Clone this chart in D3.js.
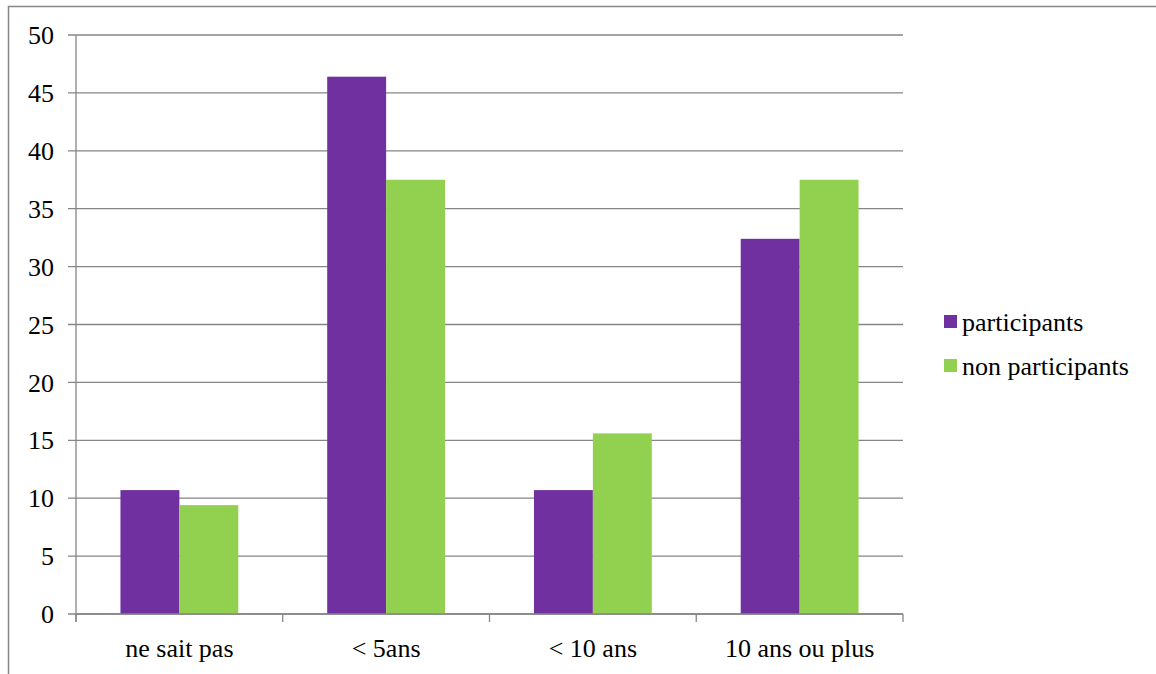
<!DOCTYPE html>
<html>
<head>
<meta charset="utf-8">
<script src="https://cdn.jsdelivr.net/npm/d3@7"></script>
<style>
  body { margin: 0; background: #fff; }
</style>
</head>
<body>
<svg id="chart" width="1156" height="674"></svg>
<script>
const categories = ["ne sait pas", "< 5ans", "< 10 ans", "10 ans ou plus"];
const seriesNames = ["participants", "non participants"];
const participants = [10.7, 46.4, 10.7, 32.4];
const nonParticipants = [9.4, 37.5, 15.6, 37.5];
const yTicks = [0, 5, 10, 15, 20, 25, 30, 35, 40, 45, 50];
const colors = ["#7030A0", "#92D050"];

// pick an installed serif face (Times-like), else fall back
function pickFont() {
  const ctx = document.createElement("canvas").getContext("2d");
  const sample = "non participants 10 ans ou plus";
  const w = f => { ctx.font = `40px ${f}`; return ctx.measureText(sample).width; };
  const base = [w("monospace"), w("sans-serif")];
  const cands = ["Liberation Serif", "Times New Roman", "Tinos", "Noto Serif", "DejaVu Serif", "FreeSerif"];
  for (const c of cands) {
    const a = w(`'${c}', monospace`), b = w(`'${c}', sans-serif`);
    if (a === b && a !== base[0]) return { font: `'${c}', serif`, size: c === "DejaVu Serif" ? 21 : 26 };
  }
  return { font: "serif", size: 26 };
}
const F = pickFont();

const svg = d3.select("#chart");
const margin = { top: 35, left: 76, right: 253, bottom: 60 };
const width = 1156;
const innerW = width - margin.left - margin.right;
const innerH = 614 - margin.top;

// outer frame
svg.append("rect")
  .attr("x", 8.5).attr("y", 6.5)
  .attr("width", 1160).attr("height", 680)
  .attr("fill", "none").attr("stroke", "#868686").attr("stroke-width", 1.5);

const g = svg.append("g").attr("transform", `translate(${margin.left},${margin.top})`);

const x = d3.scaleBand().domain(categories).range([0, innerW]).paddingInner(0.43).paddingOuter(0.215);
const x1 = d3.scaleBand().domain(seriesNames).range([0, x.bandwidth()]);
const y = d3.scaleLinear().domain([0, 50]).range([innerH, 0]);

// gridlines
g.append("g").selectAll("line").data(yTicks).join("line")
  .attr("x1", -8).attr("x2", innerW)
  .attr("y1", d => y(d)).attr("y2", d => y(d))
  .attr("stroke", "#868686").attr("stroke-width", 1.3);

// y axis labels
g.append("g").selectAll("text").data(yTicks).join("text")
  .attr("x", -22).attr("y", d => y(d)).attr("dy", "0.35em")
  .attr("text-anchor", "end").attr("font-size", F.size).attr("font-family", F.font).attr("fill", "#000")
  .text(d => d);

// bars
const rows = categories.map((c, i) => ({ cat: c, vals: [participants[i], nonParticipants[i]] }));
const grp = g.append("g").selectAll("g").data(rows).join("g")
  .attr("transform", d => `translate(${x(d.cat)},0)`);
grp.selectAll("rect").data(d => d.vals.map((v, i) => ({ s: seriesNames[i], v, i }))).join("rect")
  .attr("x", d => x1(d.s)).attr("width", x1.bandwidth())
  .attr("y", d => y(d.v)).attr("height", d => innerH - y(d.v))
  .attr("fill", d => colors[d.i]);

// y axis line
g.append("line").attr("x1", 0).attr("x2", 0).attr("y1", 0).attr("y2", innerH + 8)
  .attr("stroke", "#868686").attr("stroke-width", 1.3);

// x axis
const step = innerW / categories.length;
const xAxisG = g.append("g").attr("transform", `translate(0,${innerH})`);
xAxisG.append("line").attr("x1", 0).attr("x2", innerW).attr("stroke", "#868686").attr("stroke-width", 1.3);
xAxisG.selectAll("line.tick").data(d3.range(categories.length + 1)).join("line")
  .attr("class", "tick")
  .attr("x1", d => d * step).attr("x2", d => d * step)
  .attr("y1", 0).attr("y2", 8)
  .attr("stroke", "#868686").attr("stroke-width", 1.3);
xAxisG.selectAll("text").data(categories).join("text")
  .attr("x", d => x(d) + x.bandwidth() / 2).attr("y", 34).attr("dy", "0.35em")
  .attr("text-anchor", "middle").attr("font-size", F.size).attr("font-family", F.font).attr("fill", "#000")
  .text(d => d);

// legend
const legend = svg.append("g").attr("transform", "translate(944,315)");
seriesNames.forEach((s, i) => {
  const row = legend.append("g").attr("transform", `translate(0,${i * 44})`);
  row.append("rect").attr("width", 13).attr("height", 13).attr("fill", colors[i]);
  row.append("text").attr("x", 18).attr("y", 7).attr("dy", "0.35em")
    .attr("font-size", F.size).attr("font-family", F.font).attr("fill", "#000").text(s);
});
</script>
</body>
</html>
